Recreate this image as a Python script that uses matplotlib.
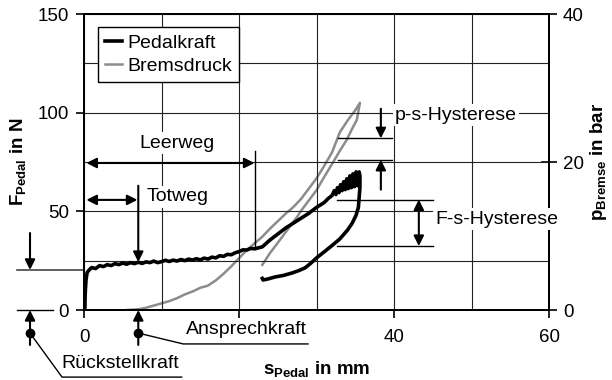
import matplotlib
matplotlib.use("Agg")
import matplotlib.pyplot as plt

plt.rcParams['font.family'] = ['Liberation Sans', 'DejaVu Sans']
plt.rcParams['mathtext.fontset'] = 'custom'
plt.rcParams['mathtext.rm'] = 'Liberation Sans'
plt.rcParams['mathtext.bf'] = 'Liberation Sans:bold'

# Pedalkraft (N) vs pedal travel (mm) - loading, then unloading
s_force = [0.1, 0.15, 0.25, 0.4, 0.7, 1.0, 1.5, 2.0, 2.5, 3.0, 3.5, 4.0, 4.5, 5.0, 5.5, 6.0, 6.5,
           7.0, 7.5, 8.0, 8.5, 9.0, 9.5, 10, 10.5, 11, 11.5, 12, 12.5, 13, 13.5, 14, 14.5, 15,
           15.5, 16, 16.5, 17, 17.5, 18, 18.5, 19, 19.5, 20, 20.5, 21, 21.5, 22, 22.5, 23,
           24, 25, 26, 27, 28, 29, 30, 31, 31.5, 32,
           32.3, 32.5, 32.7, 32.9, 33.1, 33.3, 33.5, 33.7, 33.9, 34.1, 34.3, 34.5, 34.7,
           34.9, 35.1, 35.3, 35.5, 35.6,
           35.6, 35.6, 35.5, 35.4, 35.1, 34.6, 34.0, 33.0, 32.1, 31.0, 30.0, 29.2, 28.5,
           27.6, 26.8, 25.7, 24.6, 23.8, 23.1, 23.0]
f_pedal = [0, 8, 15, 19, 20.5, 21.5, 21, 22.5, 22, 23, 22.5, 23.5, 23, 23.8, 23.2, 24, 23.5,
           24.2, 23.6, 24.4, 24, 24.8, 24, 24.5, 25.2, 24.6, 25.3, 24.8, 25.6, 25, 25.8, 25.3, 26, 25.4,
           26.3, 25.8, 26.8, 26.4, 27.5, 27.2, 28.2, 28, 29, 29.6, 30.5, 30.4, 31.2, 31, 31.5, 32,
           35.5, 38.5, 41.5, 44, 46.5, 49, 52, 54.5, 56.5, 58,
           60.5, 58.5, 62, 59.5, 63.5, 60.5, 65, 61, 66.5, 61.5, 68, 62, 69,
           62.5, 70, 63, 70, 68,
           66, 62, 57, 52, 48, 44, 40.5, 36, 33, 29.5, 26.4, 23.5, 21.3,
           19.8, 18.7, 17.5, 16.7, 15.8, 15.2, 16]

# Bremsdruck (bar) vs pedal travel (mm) - loading, then unloading
s_press = [5.5, 7, 8, 9, 10, 11, 12, 13, 14, 15, 16, 17, 18, 19, 20, 21, 22, 23, 24, 25, 26,
           27, 28, 29, 30, 31, 32, 33, 34, 35, 35.6,
           35.2, 34.5, 33.9, 33.0, 32.1, 31.0, 30.0, 29.0, 28.0, 27.5, 26.5, 25.3, 24.0, 23.0]
p_brake = [0, 0.1, 0.3, 0.6, 0.9, 1.2, 1.6, 2.1, 2.5, 3.0, 3.3, 4.0, 4.9, 5.9, 7.0, 8.1, 9.0, 9.9, 11.0, 12.0, 13.0,
           13.9, 15.0, 16.4, 17.8, 19.5, 21.3, 24.0, 25.6, 27.0, 28.0,
           25.7, 24.3, 23.0, 21.5, 19.9, 18.0, 16.2, 14.8, 13.4, 12.6, 11.2, 9.5, 7.7, 6.1]

x_ticks = [0, 20, 40, 60]
x_ticklabels = ['0', '', '40', '60']
y_ticks = [0, 50, 100, 150]
y2_ticks = [0, 20, 40]

fig = plt.figure(figsize=(6.12, 3.8), dpi=100)
ax = fig.add_axes([0.1373, 0.1842, 0.7598, 0.7789])
ax2 = ax.twinx()
ax.set_zorder(ax2.get_zorder() + 1)
ax.patch.set_visible(False)

FS = 14
TS = 13.5
LS = 13.5

ax.set_xlim(0, 60)
ax.set_ylim(0, 150)
ax2.set_ylim(0, 40)

ax.set_xticks(x_ticks)
ax.set_xticklabels(x_ticklabels)
ax.set_yticks(y_ticks)
ax2.set_yticks(y2_ticks)
ax.set_xticks([10, 20, 30, 40, 50], minor=True)
ax.set_yticks([25, 50, 75, 100, 125], minor=True)
ax.grid(True, which='both', color='#222222', lw=0.8)
ax.tick_params(which='minor', length=0)
ax.tick_params(which='major', direction='out', length=6, width=1.2, labelsize=TS, pad=5)
ax.tick_params(axis='x', pad=8)
ax2.tick_params(direction='inout', length=12, width=1.2, labelsize=TS, pad=4)
ax.tick_params(axis='y', right=False)
for a in (ax, ax2):
    for sp in a.spines.values():
        sp.set_linewidth(1.4)

ln2, = ax2.plot(s_press, p_brake, color='#8c8c8c', lw=1.8, label='Bremsdruck')
ln1, = ax.plot(s_force, f_pedal, color='black', lw=2.6, label='Pedalkraft')

ax.set_xlabel(r'$\mathbf{s_{Pedal}}$ in mm', fontsize=LS, fontweight='bold', labelpad=9)
ax.set_ylabel(r'$\mathbf{F_{Pedal}}$ in N', fontsize=LS, fontweight='bold', labelpad=7)
ax2.set_ylabel(r'$\mathbf{p_{Bremse}}$ in bar', fontsize=LS, fontweight='bold', labelpad=3)

leg = ax.legend(handles=[ln1, ln2], loc='upper left', bbox_to_anchor=(0.03, 0.955),
                fontsize=FS, frameon=True, fancybox=False, edgecolor='black', framealpha=1,
                handlelength=0.9, handletextpad=0.25, borderpad=0.35, labelspacing=0.3,
                borderaxespad=0)
leg.get_frame().set_linewidth(1.0)

arr = dict(arrowstyle='-|>', color='black', lw=1.5, mutation_scale=15, shrinkA=0, shrinkB=0)
darr = dict(arrowstyle='<|-|>', color='black', lw=1.5, mutation_scale=15, shrinkA=0, shrinkB=0)
white = dict(facecolor='white', edgecolor='none', pad=1.5)

# Leerweg
ax.annotate('', xy=(22, 74.5), xytext=(0.3, 74.5), arrowprops=darr)
ax.plot([22, 22], [80.5, 31], color='black', lw=1.0)
ax.text(12, 84.6, 'Leerweg', fontsize=FS, ha='center', va='center', bbox=white, zorder=4)

# Totweg
ax.annotate('', xy=(6.9, 55.8), xytext=(0.3, 55.8), arrowprops=darr)
ax.annotate('', xy=(7, 24.3), xytext=(7, 63), arrowprops=arr)
ax.text(12.1, 57.3, 'Totweg', fontsize=FS, ha='center', va='center', bbox=white, zorder=4)

# p-s-Hysterese (levels given in bar, drawn on the force axis scale 150 N = 40 bar)
ps_hi = 23.2 * 150 / 40
ps_lo = 20.3 * 150 / 40
ax.plot([32.8, 39.7], [ps_hi, ps_hi], color='black', lw=1.0)
ax.plot([32.8, 39.7], [ps_lo, ps_lo], color='black', lw=1.0)
ax.annotate('', xy=(38.3, ps_hi), xytext=(38.3, 102), arrowprops=arr)
ax.annotate('', xy=(38.3, ps_lo), xytext=(38.3, 61), arrowprops=arr)
ax.text(48, 98.8, 'p-s-Hysterese', fontsize=FS, ha='center', va='center', bbox=white, zorder=4)

# F-s-Hysterese
ax.plot([32.6, 45], [56, 56], color='black', lw=1.0)
ax.plot([32.6, 45], [32.4, 32.4], color='black', lw=1.0)
ax.annotate('', xy=(43.2, 32.4), xytext=(43.2, 56), arrowprops=darr)
ax.text(53.3, 46.1, 'F-s-Hysterese', fontsize=FS, ha='center', va='center', bbox=white,
        zorder=6, clip_on=False)

# Rückstellkraft
ax.plot([-8.65, 0], [20.3, 20.3], color='#444444', lw=1.2, clip_on=False)
ax.plot([-8.65, -4.0], [0, 0], color='black', lw=1.0, clip_on=False)
ax.annotate('', xy=(-6.97, 20.3), xytext=(-6.97, 39), arrowprops=arr, annotation_clip=False)
ax.annotate('', xy=(-6.97, 0), xytext=(-6.97, -17.7), arrowprops=arr, annotation_clip=False)
ax.plot([-6.97], [-11.7], 'o', color='black', ms=6, clip_on=False)
ax.plot([-6.97, -2.84, 12.6], [-11.7, -34, -34], color='black', lw=1.0, clip_on=False)
ax.text(4.65, -26.9, 'Rückstellkraft', fontsize=FS, ha='center', va='center')

# Ansprechkraft
ax.annotate('', xy=(7, 0), xytext=(7, -17.7), arrowprops=arr, annotation_clip=False)
ax.plot([7], [-11.7], 'o', color='black', ms=6, clip_on=False)
ax.plot([7, 12.8, 28.9], [-11.7, -17.2, -17.2], color='black', lw=1.0, clip_on=False)
ax.text(20.9, -10.1, 'Ansprechkraft', fontsize=FS, ha='center', va='center')

fig.savefig('out.png', dpi=100)
